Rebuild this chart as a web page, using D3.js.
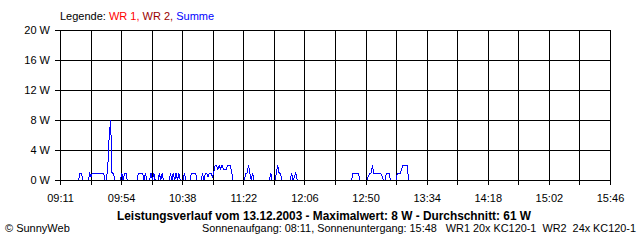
<!DOCTYPE html>
<html>
<head>
<meta charset="utf-8">
<script src="https://cdn.jsdelivr.net/npm/d3@7"></script>
<style>
  html, body { margin: 0; padding: 0; background: #fff; }
  svg { display: block; font-family: "Liberation Sans", Arial, sans-serif; }
</style>
</head>
<body>
<svg id="chart"></svg>
<script>
// time axis labels (every second grid line)
const tickLabels = ['09:11', '09:54', '10:38', '11:22', '12:06', '12:50', '13:34', '14:18', '15:02', '15:46'];
const yTicks = [0, 4, 8, 12, 16, 20];

// Summe
const times = [
  '09:11', '09:24', '09:25', '09:26', '09:27',
  '09:31', '09:32', '09:33', '09:34', '09:42', '09:43',
  '09:44', '09:45', '09:46', '09:47', '09:48', '09:49', '09:50',
  '09:54', '09:55', '09:56', '09:57', '09:58', '09:59',
  '10:06', '10:07', '10:10', '10:11', '10:12', '10:13',
  '10:15', '10:16', '10:17', '10:18', '10:19',
  '10:21', '10:22', '10:23', '10:24', '10:25',
  '10:29', '10:30', '10:31', '10:32', '10:33', '10:34', '10:35', '10:36', '10:37',
  '10:39', '10:40', '10:41',
  '10:44', '10:45', '10:48', '10:49',
  '10:52', '10:53', '10:54', '10:55', '10:56', '10:57', '10:58', '10:59', '11:00', '11:01',
  '11:02', '11:03', '11:04', '11:05', '11:06', '11:07', '11:08', '11:09', '11:10', '11:11', '11:12', '11:13', '11:14', '11:15',
  '11:23', '11:24', '11:25', '11:26', '11:27', '11:28', '11:29', '11:30',
  '11:41', '11:42', '11:43',
  '11:45', '11:46', '11:47', '11:48', '11:49', '11:50',
  '11:56', '11:57', '11:58', '11:59', '12:00', '12:01',
  '12:40', '12:41', '12:45', '12:46',
  '12:51', '12:52', '12:53', '12:54', '12:55', '12:56', '13:01', '13:02', '13:03', '13:04', '13:05', '13:07', '13:08',
  '13:12', '13:13', '13:15', '13:16', '13:17', '13:20', '13:21'
];
const summe = [
  0, 0, 1, 1, 0,
  0, 1, 0.5, 1, 1, 0,
  0, 2, 6, 8, 1, 1, 0,
  0, 1, 0, 1, 1, 0,
  0, 1, 1, 0, 1, 0,
  0, 1, 0, 1, 0,
  0, 1, 0, 1, 0,
  0, 1, 0, 1, 0, 1, 0, 1, 0,
  0, 1, 0,
  0, 1, 1, 0,
  0, 1, 0, 1, 1, 0.5, 1, 1, 0.5, 1,
  2, 2, 1.5, 2, 1.5, 2, 1.5, 1.5, 1.5, 2, 2, 2, 1, 0,
  0, 1, 1, 2, 1, 0, 1, 0,
  0, 1, 0,
  0, 1, 2, 1, 1, 0,
  0, 1, 0, 0.5, 1, 0,
  0, 1, 1, 0,
  0, 0.5, 1, 1, 2, 1, 1, 0.5, 0, 0, 1, 1, 0,
  0, 1, 1, 1.5, 2, 2, 0
];

const toMin = s => +s.slice(0, 2) * 60 + +s.slice(3, 5);

const w = 640;
const h = 240;
const svg = d3.select('#chart').attr('width', w).attr('height', h);

const x = d3.scaleLinear()
  .domain([toMin(tickLabels[0]), toMin(tickLabels[tickLabels.length - 1])])
  .range([60, 610]);
const y = d3.scaleLinear().domain([0, 20]).range([180, 30]);

const px = v => Math.round(v) + 0.5;
const [t0, t1] = x.domain();
const gridTimes = d3.range(19).map(i => t0 + (t1 - t0) * i / 18);

const grid = svg.append('g')
  .attr('stroke', '#000')
  .attr('stroke-width', 1)
  .attr('shape-rendering', 'crispEdges');

grid.selectAll('.h')
  .data(yTicks)
  .join('line')
    .attr('x1', 55)
    .attr('x2', px(x(t1)))
    .attr('y1', d => px(y(d)))
    .attr('y2', d => px(y(d)));

grid.selectAll('.v')
  .data(gridTimes)
  .join('line')
    .attr('x1', d => px(x(d)))
    .attr('x2', d => px(x(d)))
    .attr('y1', px(y(20)))
    .attr('y2', 185);

// data line
const line = d3.line()
  .x((d, i) => x(toMin(times[i])))
  .y(d => y(d));

svg.append('path')
  .datum(summe)
  .attr('transform', 'translate(0.5,0.5)')
  .attr('fill', 'none')
  .attr('stroke', '#0000ff')
  .attr('stroke-width', 1)
  .attr('shape-rendering', 'crispEdges')
  .attr('d', line);

// baseline back on top
svg.append('line')
  .attr('x1', 55)
  .attr('x2', px(x(t1)))
  .attr('y1', px(y(0)))
  .attr('y2', px(y(0)))
  .attr('stroke', '#000')
  .attr('shape-rendering', 'crispEdges');

// y labels
svg.append('g')
  .selectAll('text')
  .data(yTicks)
  .join('text')
    .attr('x', 50)
    .attr('y', d => y(d) + 3.5)
    .attr('text-anchor', 'end')
    .attr('font-size', 11)
    .text(d => d + ' W');

// x labels
svg.append('g')
  .selectAll('text')
  .data(tickLabels)
  .join('text')
    .attr('x', (d, i) => x(t0 + (t1 - t0) * i / 9) + 0.5)
    .attr('y', 202)
    .attr('text-anchor', 'middle')
    .attr('font-size', 11)
    .text(d => d);

// legend
const legend = svg.append('text')
  .attr('x', 60)
  .attr('y', 20)
  .attr('font-size', 11)
  .style('white-space', 'pre');
legend.append('tspan').attr('fill', '#000').text('Legende: ');
legend.append('tspan').attr('fill', '#ff0000').text('WR 1, ');
legend.append('tspan').attr('fill', '#990000').text('WR 2, ');
legend.append('tspan').attr('fill', '#0000ff').text('Summe');

// title and footer
svg.append('text')
  .attr('x', 117)
  .attr('y', 220)
  .attr('font-size', 12)
  .attr('font-weight', 'bold')
  .attr('textLength', 414)
  .attr('lengthAdjust', 'spacingAndGlyphs')
  .text('Leistungsverlauf vom 13.12.2003 - Maximalwert: 8 W - Durchschnitt: 61 W');

svg.append('text')
  .attr('x', 5)
  .attr('y', 232)
  .attr('font-size', 11)
  .text('\u00a9 SunnyWeb');

svg.append('text')
  .attr('x', 202)
  .attr('y', 232)
  .attr('font-size', 11)
  .attr('textLength', 434)
  .attr('lengthAdjust', 'spacingAndGlyphs')
  .style('white-space', 'pre')
  .text('Sonnenaufgang: 08:11, Sonnenuntergang: 15:48   WR1 20x KC120-1  WR2  24x KC120-1');
</script>
</body>
</html>
